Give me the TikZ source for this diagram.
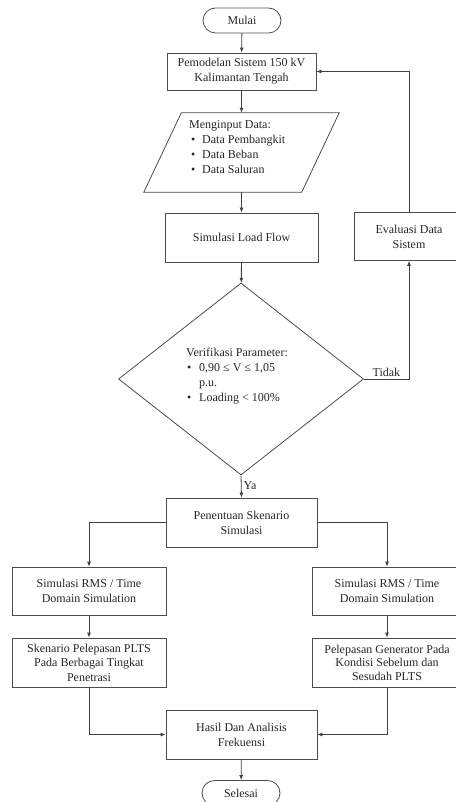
\documentclass[tikz,border=0pt]{standalone}
\usepackage{fontspec}
\setmainfont{Liberation Serif}
\usetikzlibrary{shapes.geometric,shapes.misc,calc,arrows.meta}
\begin{document}
\begin{tikzpicture}[x=1pt,y=1pt,
  every node/.style={font=\fontsize{12}{15}\selectfont, text=black!85},
  box/.style={draw=black!70, line width=0.8pt, rectangle, align=center, inner sep=1pt},
  term/.style={draw=black!70, line width=0.8pt, rounded rectangle, minimum width=80, minimum height=25, inner sep=1pt},
  conn/.style={draw=black!75, line width=0.8pt, -{Latex[length=5pt,width=4pt]}},
  lbl/.style={font=\fontsize{12}{14}\selectfont, inner sep=2pt}
]
\useasboundingbox (0,0) rectangle (455,-802);

\node[term] (mulai) at (242,-20.5) {Mulai};
\node[box, minimum width=149, minimum height=37] (pem) at (241.5,-71.5) {Pemodelan Sistem 150 kV\\Kalimantan Tengah};
\node[minimum width=195, minimum height=79, inner sep=0] (inp) at (241.5,-152.5) {};
\draw[draw=black!70, line width=0.8pt] ($(inp.north west)+(37.5,0)$) -- (inp.north east) -- ($(inp.south east)+(-37.5,0)$) -- (inp.south west) -- cycle;
\node[align=left, anchor=north west, inner sep=0] (inptext) at (189,-120.5) {Menginput Data:\\
\makebox[13pt][l]{\hspace{2pt}•}Data Pembangkit\\
\makebox[13pt][l]{\hspace{2pt}•}Data Beban\\
\makebox[13pt][l]{\hspace{2pt}•}Data Saluran};

\node[box, minimum width=153, minimum height=49] (lf) at (241.5,-237.5) {Simulasi Load Flow};
\node[box, minimum width=110, minimum height=48] (eval) at (409,-236.5) {Evaluasi Data\\Sistem};

\node[draw=black!70, line width=0.8pt, diamond, minimum width=245, minimum height=192, inner sep=0] (dec) at (241,-379) {};
\node[align=left, anchor=north west, inner sep=0] (dectext) at (186,-348) {Verifikasi Parameter:\\
\makebox[13pt][l]{\hspace{1pt}•}0,90 ≤ V ≤ 1,05\\
\hspace*{13pt}p.u.\\
\makebox[13pt][l]{\hspace{1pt}•}Loading < 100\%};

\node[box, minimum width=151, minimum height=49] (pen) at (241.5,-522.5) {Penentuan Skenario\\Simulasi};
\node[box, minimum width=154, minimum height=48] (ls1) at (89,-591) {Simulasi RMS / Time\\Domain Simulation};
\node[box, minimum width=150, minimum height=48] (rs1) at (387,-591) {Simulasi RMS / Time\\Domain Simulation};
\node[box, minimum width=154, minimum height=49, font=\fontsize{12}{14.5}\selectfont] (ls2) at (89,-662.5) {Skenario Pelepasan PLTS\\Pada Berbagai Tingkat\\Penetrasi};
\node[box, minimum width=150, minimum height=49, font=\fontsize{12}{13.5}\selectfont] (rs2) at (387,-662.5) {Pelepasan Generator Pada\\Kondisi Sebelum dan\\Sesudah PLTS};
\node[box, minimum width=151, minimum height=49] (hasil) at (241.5,-734.5) {Hasil Dan Analisis\\Frekuensi};
\node[term] (selesai) at (241,-793) {Selesai};

\draw[conn] (mulai) -- (pem);
\draw[conn] (pem) -- (inp);
\draw[conn] (inp) -- (lf);
\draw[conn] (lf) -- (dec);
\draw[conn] (dec.east) -| node[lbl, above, pos=0.25] {Tidak} (eval.south);
\draw[conn] (eval.north) |- (pem.east);
\draw[conn] (dec.south) -- node[lbl, right, pos=0.45] {Ya} (pen.north);
\draw[conn] (pen.west) -| (ls1.north);
\draw[conn] (pen.east) -| (rs1.north);
\draw[conn] (ls1) -- (ls2);
\draw[conn] (rs1) -- (rs2);
\draw[conn] (ls2.south) |- (hasil.west);
\draw[conn] (rs2.south) |- (hasil.east);
\draw[conn] (hasil) -- (selesai);
\end{tikzpicture}
\end{document}
